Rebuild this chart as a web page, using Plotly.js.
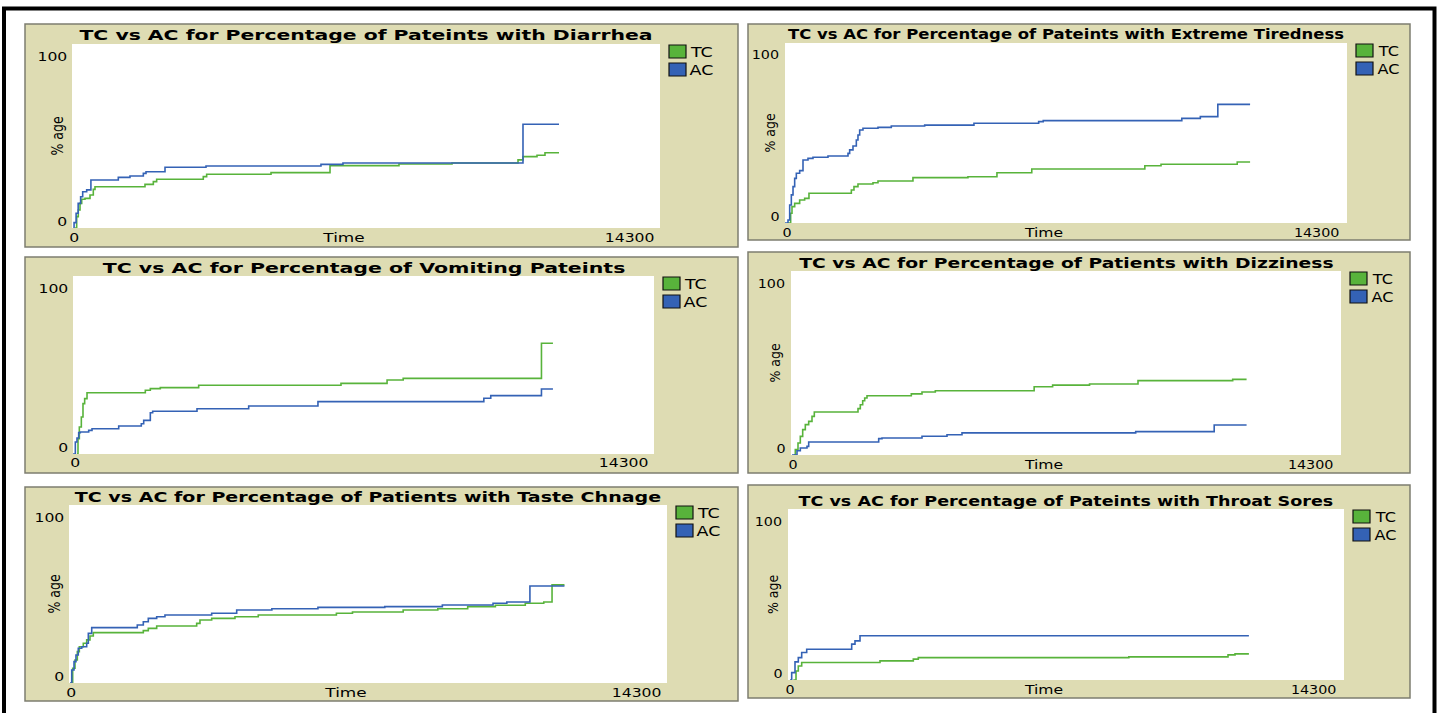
<!DOCTYPE html>
<html>
<head>
<meta charset="utf-8">
<script src="https://cdn.plot.ly/plotly-3.0.1.min.js"></script>
<style>
html,body{margin:0;padding:0;background:#ffffff;overflow:hidden;}
#chart{width:1440px;height:713px;}
</style>
</head>
<body>
<div id="chart"></div>
<script>
// ---------------- DATA ----------------
const X_MAX = 14300;
const Y_MAX = 100;
const seriesNames = ["TC", "AC"];
const xAxisLabel = "Time";
const yAxisLabel = "% age";
const xTickLabels = ["0", "14300"];
const yTickLabels = ["0", "100"];
const panelTitles = [
  "TC vs AC for Percentage of Pateints with Diarrhea",
  "TC vs AC for Percentage of Pateints with Extreme Tiredness",
  "TC vs AC for Percentage of Vomiting Pateints",
  "TC vs AC for Percentage of Patients with Dizziness",
  "TC vs AC for Percentage of Patients with Taste Chnage",
  "TC vs AC for Percentage of Pateints with Throat Sores"
];

// Diarrhea
const diarrheaTcTime = [70, 114, 153, 195, 236, 316, 438, 518, 559, 1775, 1978, 2059, 3193, 3275, 4840, 6275, 7952, 9242, 10847, 10968, 11309, 11503, 11844];
const diarrheaTcPct  = [0, 6.2, 9.8, 13.4, 15.6, 16.1, 17.9, 21.0, 22.4, 23.7, 25.2, 26.5, 27.9, 29.2, 30.1, 33.9, 34.8, 35.3, 37.0, 38.8, 39.5, 40.9, 40.9];
const diarrheaAcTime = [30, 50, 100, 150, 210, 260, 357, 460, 1126, 1410, 1735, 1800, 2262, 3259, 6055, 6590, 10968, 11844];
const diarrheaAcPct  = [0, 2.9, 8.0, 13.4, 17.0, 19.7, 20.7, 26.1, 27.5, 28.3, 29.7, 30.6, 33.0, 33.7, 34.6, 35.3, 56.4, 56.4];

// Extreme tiredness
const tirednessTcTime = [76, 144, 178, 246, 373, 500, 610, 1688, 1755, 1857, 2239, 2366, 3256, 4655, 5393, 6279, 9156, 9568, 11507, 11834];
const tirednessTcPct  = [0, 5.4, 9.1, 10.9, 12.8, 13.7, 16.5, 18.3, 20.2, 21.7, 22.4, 23.3, 25.2, 25.7, 27.9, 30.0, 31.8, 32.6, 33.9, 33.9];
const tirednessAcTime = [0, 76, 119, 161, 204, 246, 288, 373, 458, 585, 712, 1094, 1603, 1645, 1730, 1815, 1857, 1900, 1984, 2366, 2705, 3554, 4808, 6454, 6571, 10097, 10568, 11013, 11834];
const tirednessAcPct  = [0, 1.7, 10.0, 15.6, 20.2, 24.8, 27.6, 29.1, 35.0, 35.9, 36.5, 37.2, 38.7, 40.6, 42.8, 46.1, 48.9, 51.7, 52.6, 53.1, 53.9, 54.4, 55.4, 56.3, 56.9, 58.1, 59.1, 65.9, 65.9];

// Vomiting
const vomitingTcTime = [98, 123, 156, 205, 246, 287, 345, 1780, 1903, 2149, 3093, 6596, 7730, 8127, 11530, 11813];
const vomitingTcPct  = [0, 8.6, 15.2, 20.8, 28.3, 31.1, 34.4, 35.8, 36.7, 37.3, 38.6, 39.7, 41.6, 42.5, 62.2, 62.2];
const vomitingAcTime = [0, 57, 98, 140, 180, 386, 468, 1125, 1681, 1740, 1903, 1961, 3052, 4324, 6029, 10112, 10282, 11530, 11813];
const vomitingAcPct  = [0, 6.7, 9.0, 12.0, 12.4, 13.3, 14.2, 15.7, 17.0, 18.9, 23.2, 24.0, 25.4, 27.0, 29.4, 31.3, 32.8, 36.5, 36.5];

// Dizziness
const dizzinessTcTime = [70, 112, 182, 242, 304, 372, 460, 546, 606, 1742, 1802, 1864, 1916, 1976, 3128, 3406, 3752, 6322, 6802, 7762, 9022, 11484, 11845];
const dizzinessTcPct  = [0, 2.9, 6.5, 10.1, 13.8, 16.5, 18.3, 21.0, 23.4, 25.2, 27.3, 29.5, 31.0, 32.2, 33.2, 34.2, 34.9, 37.1, 38.0, 38.6, 40.4, 41.1, 41.1];
const dizzinessAcTime = [26, 156, 242, 416, 460, 2280, 2366, 3406, 4056, 4446, 8962, 11003, 11845];
const dizzinessAcPct  = [0, 2.3, 3.8, 4.7, 7.1, 8.9, 9.2, 10.2, 11.0, 12.0, 12.7, 16.3, 16.3];

// Taste change
const tasteTcTime = [40, 88, 143, 199, 247, 342, 423, 502, 581, 1777, 1896, 2097, 3053, 3132, 3412, 3969, 4526, 6394, 6779, 7991, 8819, 9534, 10196, 10911, 11353, 11551, 11848];
const tasteTcPct  = [0, 8.3, 12.9, 17.6, 20.4, 22.3, 24.2, 26.4, 28.3, 29.4, 30.7, 32.0, 33.5, 35.4, 36.3, 37.2, 38.2, 39.2, 39.9, 41.0, 41.7, 42.9, 43.7, 44.8, 45.5, 55.1, 55.1];
const tasteAcTime = [24, 65, 120, 167, 222, 304, 423, 462, 543, 1633, 1777, 1896, 2097, 2295, 3412, 4010, 4851, 5953, 7551, 8928, 10140, 10470, 11022, 11848];
const tasteAcPct  = [0, 7.3, 12.0, 15.7, 19.5, 20.4, 22.3, 27.9, 31.1, 32.6, 34.4, 36.3, 37.2, 38.2, 39.2, 41.0, 41.7, 42.5, 42.9, 43.8, 44.8, 45.5, 54.5, 54.5];

// Throat sores
const throatTcTime = [136, 206, 265, 352, 2366, 3223, 3351, 8766, 11317, 11497, 11854];
const throatTcPct  = [0, 5.3, 8.2, 10.2, 11.2, 12.2, 13.1, 13.5, 14.7, 15.3, 15.3];
const throatAcTime = [51, 95, 180, 265, 352, 481, 1638, 1723, 1852, 11854];
const throatAcPct  = [0, 4.3, 10.6, 13.1, 16.1, 18.0, 21.0, 22.9, 25.9, 25.9];

// ---------------- LAYOUT CONFIG ----------------
const W = 1440, H = 713;
const COLORS = ["#58b33b", "#3462b5"];
const PANEL_BG = "#dedcb3";
const FONT = "DejaVu Sans, Verdana, sans-serif";

const panelSeries = [
  [[diarrheaTcTime, diarrheaTcPct], [diarrheaAcTime, diarrheaAcPct]],
  [[tirednessTcTime, tirednessTcPct], [tirednessAcTime, tirednessAcPct]],
  [[vomitingTcTime, vomitingTcPct], [vomitingAcTime, vomitingAcPct]],
  [[dizzinessTcTime, dizzinessTcPct], [dizzinessAcTime, dizzinessAcPct]],
  [[tasteTcTime, tasteTcPct], [tasteAcTime, tasteAcPct]],
  [[throatTcTime, throatTcPct], [throatAcTime, throatAcPct]]
];

// pixel boxes and text stretch (reference glyphs are horizontally wide)
const panels = [
  {frame: [25, 24, 738, 247],    plot: [72, 44, 660, 228],    axisTitles: true,  titleStretch: 1.51, textStretch: 1.2},
  {frame: [748, 24, 1410, 240],  plot: [785, 43, 1347, 223],  axisTitles: true,  titleStretch: 1.22, textStretch: 1.1},
  {frame: [25, 257, 738, 473],   plot: [73, 276, 654, 454],   axisTitles: false, titleStretch: 1.52, textStretch: 1.2},
  {frame: [748, 252, 1410, 473], plot: [791, 271, 1341, 455], axisTitles: true,  titleStretch: 1.39, textStretch: 1.1},
  {frame: [25, 487, 738, 701],   plot: [69, 505, 667, 683],   axisTitles: true,  titleStretch: 1.41, textStretch: 1.2},
  {frame: [748, 485, 1410, 698], plot: [788, 509, 1344, 680], axisTitles: true,  titleStretch: 1.30, textStretch: 1.1}
];

const px = x => x / W;
const py = y => 1 - y / H;

const traces = [];
const shapes = [];
const annotations = [];
const annStretch = []; // [scale, rotated]
const layout = {
  width: W, height: H,
  margin: {l: 0, r: 0, t: 0, b: 0},
  paper_bgcolor: "#ffffff",
  plot_bgcolor: "rgba(0,0,0,0)",
  showlegend: false,
  font: {family: FONT, color: "#000000"},
  shapes: shapes,
  annotations: annotations
};

function addText(text, x, y, size, bold, scale, angle) {
  annotations.push({
    text: text, x: px(x), y: py(y), xref: "paper", yref: "paper",
    xanchor: "center", yanchor: "middle", showarrow: false,
    textangle: angle || 0,
    font: {family: FONT, size: size, color: "#000000", weight: bold ? "bold" : "normal"}
  });
  annStretch.push([scale, !!angle]);
}

// outer black frame
shapes.push({type: "rect", xref: "paper", yref: "paper", layer: "below",
  x0: px(4), x1: px(1434.5), y0: py(730), y1: py(8.5),
  line: {color: "#000000", width: 4}, fillcolor: "rgba(0,0,0,0)"});

panels.forEach((p, i) => {
  const n = i === 0 ? "" : String(i + 1);
  const [fx0, fy0, fx1, fy1] = p.frame;
  const [x0, y0, x1, y1] = p.plot;
  const ts = p.textStretch;
  layout["xaxis" + n] = {
    domain: [px(x0), px(x1)], range: [0, X_MAX], anchor: "y" + n,
    showgrid: false, zeroline: false, showline: false, showticklabels: false, ticks: "", fixedrange: true
  };
  layout["yaxis" + n] = {
    domain: [py(y1), py(y0)], range: [0, Y_MAX], anchor: "x" + n,
    showgrid: false, zeroline: false, showline: false, showticklabels: false, ticks: "", fixedrange: true
  };
  // khaki panel
  shapes.push({type: "rect", xref: "paper", yref: "paper", layer: "below",
    x0: px(fx0), x1: px(fx1), y0: py(fy1), y1: py(fy0),
    line: {color: "#7d7d70", width: 1.5}, fillcolor: PANEL_BG});
  // white plot area
  shapes.push({type: "rect", xref: "x" + n + " domain", yref: "y" + n + " domain", layer: "below",
    x0: 0, x1: 1, y0: 0, y1: 1, line: {width: 0}, fillcolor: "#ffffff"});

  panelSeries[i].forEach((s, k) => {
    traces.push({
      type: "scatter", mode: "lines", name: seriesNames[k],
      x: s[0], y: s[1], xaxis: "x" + n, yaxis: "y" + n,
      line: {color: COLORS[k], width: 1.6, shape: "hv"},
      hoverinfo: "skip"
    });
    // legend entry
    const sqX0 = x1 + 9, sqY = y0 + 7.5 + 18 * k;
    shapes.push({type: "rect", xref: "paper", yref: "paper", layer: "above",
      x0: px(sqX0), x1: px(sqX0 + 17), y0: py(sqY + 6.5), y1: py(sqY - 6.5),
      line: {color: "#111111", width: 1.2}, fillcolor: COLORS[k]});
    addText(seriesNames[k], sqX0 + 17 + 15, sqY + 0.5, 14, false, ts + 0.05);
  });

  const cx = (x0 + x1) / 2, cy = (y0 + y1) / 2;
  addText(panelTitles[i], cx, y0 - 8.5, 13.5, true, p.titleStretch);
  addText(yTickLabels[1], x0 - 19.5, y0 + 12, 13, false, ts);
  addText(yTickLabels[0], x0 - 10, y1 - 6.5, 13, false, ts);
  addText(xTickLabels[0], x0 + 1.5, y1 + 9, 13, false, ts);
  addText(xTickLabels[1], x1 - 30.5, y1 + 9, 13, false, ts);
  if (p.axisTitles) {
    addText(xAxisLabel, cx - 23, y1 + 9, 13, false, ts + 0.1);
    addText(yAxisLabel, x0 - 15.5, cy, 12.5, false, ts + 0.05, -90);
  }
});

Plotly.newPlot("chart", traces, layout, {staticPlot: true, displayModeBar: false}).then(gd => {
  gd.querySelectorAll("g.annotation").forEach(g => {
    const idx = +g.getAttribute("data-index");
    const st = annStretch[idx];
    const t = g.querySelector("text.annotation-text");
    if (!st || !t) return;
    t.style.transformBox = "fill-box";
    t.style.transformOrigin = "center";
    t.style.transform = st[1] ? "scaleY(" + st[0] + ")" : "scaleX(" + st[0] + ")";
  });
});
</script>
</body>
</html>
